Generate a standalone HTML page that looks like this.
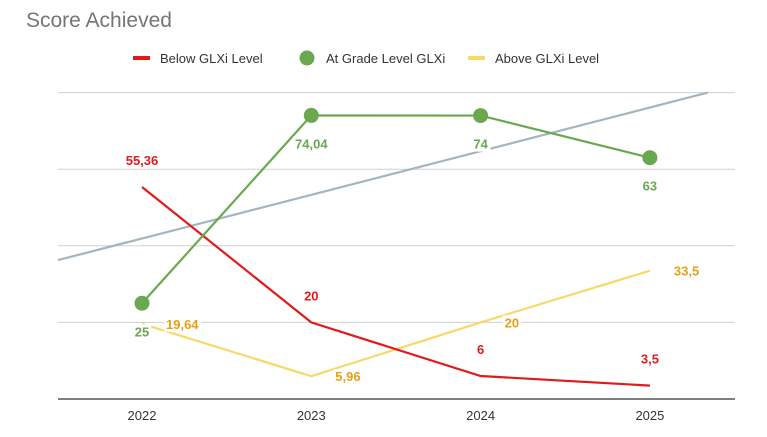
<!DOCTYPE html>
<html><head><meta charset="utf-8"><style>
body{margin:0;background:#fff;width:767px;height:437px;overflow:hidden;font-family:"Liberation Sans",Arial,sans-serif}
</style></head><body>
<svg id="chart" width="767" height="437" style="position:absolute;left:0;top:0">
<text x="26" y="27" font-size="21" fill="#757575">Score Achieved</text>
<g id="legend"></g>
<g id="grid"></g><g id="marks"></g><g id="labels"></g>
</svg>
<script>
const categories=["2022","2023","2024","2025"];
const belowValues=[55.36,20,6,3.5];
const atValues=[25,74.04,74,63];
const aboveValues=[19.64,5.96,20,33.5];
const belowLabels=["55,36","20","6","3,5"];
const atLabels=["25","74,04","74","63"];
const aboveLabels=["19,64","5,96","20","33,5"];
const gridTicks=[0,20,40,60,80];
const NS="http://www.w3.org/2000/svg";
const leftX=58,rightX=735,baseY=399,topY=92.6,maxV=80;
const xs=i=>142+i*169.3;
const ys=v=>baseY-(v/maxV)*(baseY-topY);
const RED="#e01b1b",GREEN="#6aa84f",YEL="#f7d96a",YELT="#e8a013";
const grid=document.getElementById("grid"),marks=document.getElementById("marks"),labels=document.getElementById("labels"),legend=document.getElementById("legend");
function mk(t,a,p){const e=document.createElementNS(NS,t);for(const k in a)e.setAttribute(k,a[k]);(p||marks).appendChild(e);return e;}
gridTicks.forEach(v=>{const l=mk("line",{x1:leftX,x2:rightX,y1:ys(v),y2:ys(v),stroke:v===0?"#333":"#d0d0d0","stroke-width":v===0?1.3:1},grid);

});
categories.forEach((c,i)=>{const t=mk("text",{x:xs(i),y:420,"text-anchor":"middle","font-size":13,fill:"#333"},grid);t.textContent=c;

});
const n=atValues.length,mx=(n-1)/2,my=atValues.reduce((a,b)=>a+b,0)/n;
let sxy=0,sxx=0;atValues.forEach((v,i)=>{sxy+=(i-mx)*(v-my);sxx+=(i-mx)*(i-mx);});
const slope=sxy/sxx,icpt=my-slope*mx;
const i0=(leftX-142)/169.3,i1=(maxV-icpt)/slope;
const tl=mk("line",{x1:leftX,y1:ys(icpt+slope*i0),x2:xs(i1),y2:ys(maxV),stroke:"#a3b5bf","stroke-width":2.2});


function series(vals,col,name){const p=mk("polyline",{points:vals.map((v,i)=>xs(i)+","+ys(v)).join(" "),fill:"none",stroke:col,"stroke-width":2.2});

}
series(aboveValues,YEL,"above-level-line");
series(belowValues,RED,"below-level-line");
series(atValues,GREEN,"at-grade-level-line");
atValues.forEach((v,i)=>{const c=mk("circle",{cx:xs(i),cy:ys(v),r:7.5,fill:GREEN});

});
function lab(x,y,txt,col,anchor,name){const t=mk("text",{x:x,y:y,"text-anchor":anchor,"font-size":13,"font-weight":"bold",fill:col},labels);t.textContent=txt;
const b=t.getBBox();const r=mk("rect",{x:b.x-2,y:b.y,width:b.width+4,height:b.height,fill:"#fff"},labels);labels.insertBefore(r,t);

}
belowValues.forEach((v,i)=>lab(xs(i),ys(v)-22,belowLabels[i],RED,"middle","below-value-label"));
atValues.forEach((v,i)=>lab(xs(i),ys(v)+33,atLabels[i],GREEN,"middle","at-grade-value-label"));
aboveValues.forEach((v,i)=>lab(xs(i)+24,ys(v)+5,aboveLabels[i],YELT,"start","above-value-label"));
const lg=[["Below GLXi Level",RED,"line",133],["At Grade Level GLXi",GREEN,"dot",299],["Above GLXi Level",YEL,"line",468]];
lg.forEach(([t,c,k,x])=>{let m;
if(k==="line")m=mk("rect",{x:x,y:56,width:17,height:4,fill:c},legend);else m=mk("circle",{cx:x+8,cy:58,r:7.5,fill:c},legend);


const tx=mk("text",{x:x+27,y:63,"font-size":13,fill:"#333"},legend);tx.textContent=t;

});
</script>
</body></html>
